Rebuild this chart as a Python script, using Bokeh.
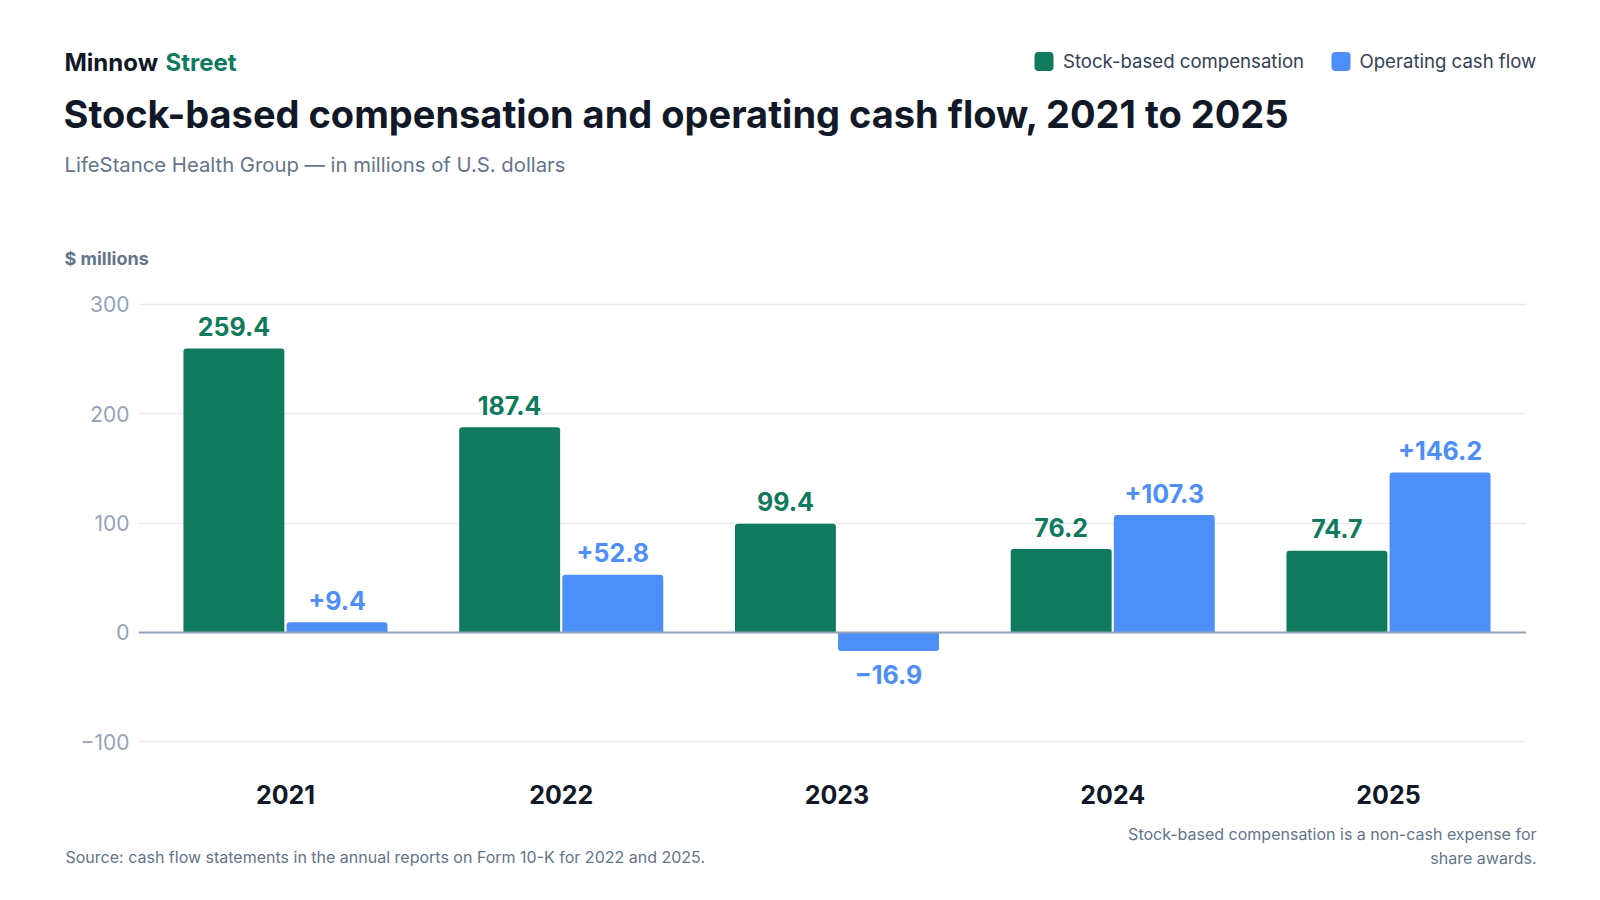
from bokeh.plotting import figure
from bokeh.layouts import column
from bokeh.models import Range1d, FixedTicker, Span, ColumnDataSource
from bokeh.core.properties import value
from bokeh.embed import file_html
from bokeh.resources import INLINE

# ---------------- data ----------------
years = ["2021", "2022", "2023", "2024", "2025"]
sbc = [259.4, 187.4, 99.4, 76.2, 74.7]          # stock-based compensation
ocf = [9.4, 52.8, -16.9, 107.3, 146.2]          # operating cash flow
y_ticks = [-100, 0, 100, 200, 300]
series_names = ["Stock-based compensation", "Operating cash flow"]

GREEN = "#0f7a5e"
BLUE = "#4d8ef8"
DARK = "#111827"
SLATE = "#64748b"
FONT = "Inter"
W = 1584
SHIFT = 0.36   # empirical baseline correction (fraction of font size)

HEAD_H = 285      # header canvas: page y 0..285
MAIN_BOTTOM = 815  # main canvas: page y 285..815
FOOT_H = 884 - MAIN_BOTTOM

FL, FR, FB = 138, 1526, 760   # frame left/right/bottom in page coords


def canvas_fig(h, y0):
    f = figure(width=W, height=h, output_backend="svg", toolbar_location=None,
               x_range=Range1d(0, W), y_range=Range1d(y0 + h, y0),
               x_axis_type=None, y_axis_type=None,
               min_border=0, background_fill_color="white", border_fill_color="white")
    f.outline_line_color = None
    f.xgrid.visible = False
    f.ygrid.visible = False
    f.frame_align = False
    return f


def txt(f, s, x, y, size, color, style="normal", align="left"):
    f.text(x=[x], y=[y - SHIFT * size], text=[s], text_font=value(FONT),
           text_font_size=f"{size}px", text_color=color, text_font_style=style,
           text_align=align, text_baseline="alphabetic")


# ---------------- header ----------------
head = canvas_fig(HEAD_H, 0)
txt(head, "Minnow", 64, 70.2, 24, DARK, "bold")
txt(head, "Street", 165, 70.2, 24, GREEN, "bold")
txt(head, "Stock-based compensation and operating cash flow, 2021 to 2025", 63, 127.5, 38, DARK, "bold")
txt(head, "LifeStance Health Group \u2014 in millions of U.S. dollars", 64, 171.7, 20.3, SLATE)
txt(head, "$ millions", 64, 264, 18, SLATE, "bold")

leg_box_x = [1034, 1331]
leg_text_x = [1062.5, 1359]
leg_colors = [GREEN, BLUE]
head.quad(left=leg_box_x, right=[b + 19 for b in leg_box_x], top=[51.5] * 2, bottom=[70.5] * 2,
          fill_color=leg_colors, line_color=None, border_radius=4)
for tx, name in zip(leg_text_x, series_names):
    txt(head, name, tx, 67, 18.6, "#334155")

# ---------------- main chart ----------------
p = figure(width=W, height=MAIN_BOTTOM - HEAD_H, output_backend="svg", toolbar_location=None,
           x_range=Range1d(-0.533, 4.5005), y_range=Range1d(-116.9, 316.9),
           min_border_left=FL, min_border_right=W - FR,
           min_border_top=0, min_border_bottom=MAIN_BOTTOM - FB,
           background_fill_color="white", border_fill_color="white")
p.outline_line_color = None
p.frame_align = False

xa = p.xaxis[0]
xa.ticker = FixedTicker(ticks=list(range(len(years))))
xa.major_label_overrides = {i: y for i, y in enumerate(years)}
xa.axis_line_color = None
xa.major_tick_line_color = None
xa.minor_tick_line_color = None
xa.major_tick_out = 0
xa.major_tick_in = 0
xa.major_label_text_font = FONT
xa.major_label_text_font_style = "bold"
xa.major_label_text_font_size = "25px"
xa.major_label_text_color = DARK
xa.major_label_standoff = 24

ya = p.yaxis[0]
ya.ticker = FixedTicker(ticks=y_ticks)
ya.major_label_overrides = {t: f"{t}".replace("-", "\u2212") for t in y_ticks}
ya.axis_line_color = None
ya.major_tick_line_color = None
ya.minor_tick_line_color = None
ya.major_tick_out = 0
ya.major_tick_in = 0
ya.major_label_text_font = FONT
ya.major_label_text_font_size = "21px"
ya.major_label_text_color = "#94a3b8"
ya.major_label_standoff = 9

p.xgrid.visible = False
p.ygrid.ticker = FixedTicker(ticks=y_ticks)
p.ygrid.grid_line_color = "#e8ecf1"
p.ygrid.grid_line_width = 1.5

x_idx = list(range(len(years)))
off = 0.187
bw = 0.366
sbc_src = ColumnDataSource(dict(x=[i - off for i in x_idx], top=sbc,
                                lab=[f"{v:.1f}" for v in sbc]))
p.vbar(x="x", top="top", bottom=0, width=bw, source=sbc_src,
       fill_color=GREEN, line_color=None, border_radius=(3, 3, 0, 0))

pos = [i for i in x_idx if ocf[i] >= 0]
neg = [i for i in x_idx if ocf[i] < 0]
ocf_pos = ColumnDataSource(dict(x=[i + off for i in pos], top=[ocf[i] for i in pos],
                                lab=[f"{ocf[i]:+.1f}" for i in pos]))
ocf_neg = ColumnDataSource(dict(x=[i + off for i in neg], top=[ocf[i] for i in neg],
                                lab=[f"{ocf[i]:+.1f}".replace("-", "\u2212") for i in neg]))
p.vbar(x="x", top="top", bottom=0, width=bw, source=ocf_pos,
       fill_color=BLUE, line_color=None, border_radius=(3, 3, 0, 0))
p.vbar(x="x", top="top", bottom=0, width=bw, source=ocf_neg,
       fill_color=BLUE, line_color=None, border_radius=(0, 0, 3, 3))

common = dict(text_font=value(FONT), text_font_style="bold", text_font_size="25px",
              text_align="center", text_baseline="alphabetic")
p.text(x="x", y="top", text="lab", source=sbc_src, text_color=GREEN, y_offset=-22, **common)
p.text(x="x", y="top", text="lab", source=ocf_pos, text_color=BLUE, y_offset=-22, **common)
p.text(x="x", y="top", text="lab", source=ocf_neg, text_color=BLUE, y_offset=23, **common)

p.add_layout(Span(location=0, dimension="width", line_color="#94a3b8", line_width=2))

# ---------------- footer ----------------
foot = canvas_fig(FOOT_H, MAIN_BOTTOM)
txt(foot, "Source: cash flow statements in the annual reports on Form 10-K for 2022 and 2025.", 65, 862, 16, SLATE)
txt(foot, "Stock-based compensation is a non-cash expense for", 1536, 839, 16, SLATE, align="right")
txt(foot, "share awards.", 1536, 863, 16, SLATE, align="right")

layout = column(head, p, foot, spacing=0)
open("out.html", "w").write(file_html(layout, INLINE))
